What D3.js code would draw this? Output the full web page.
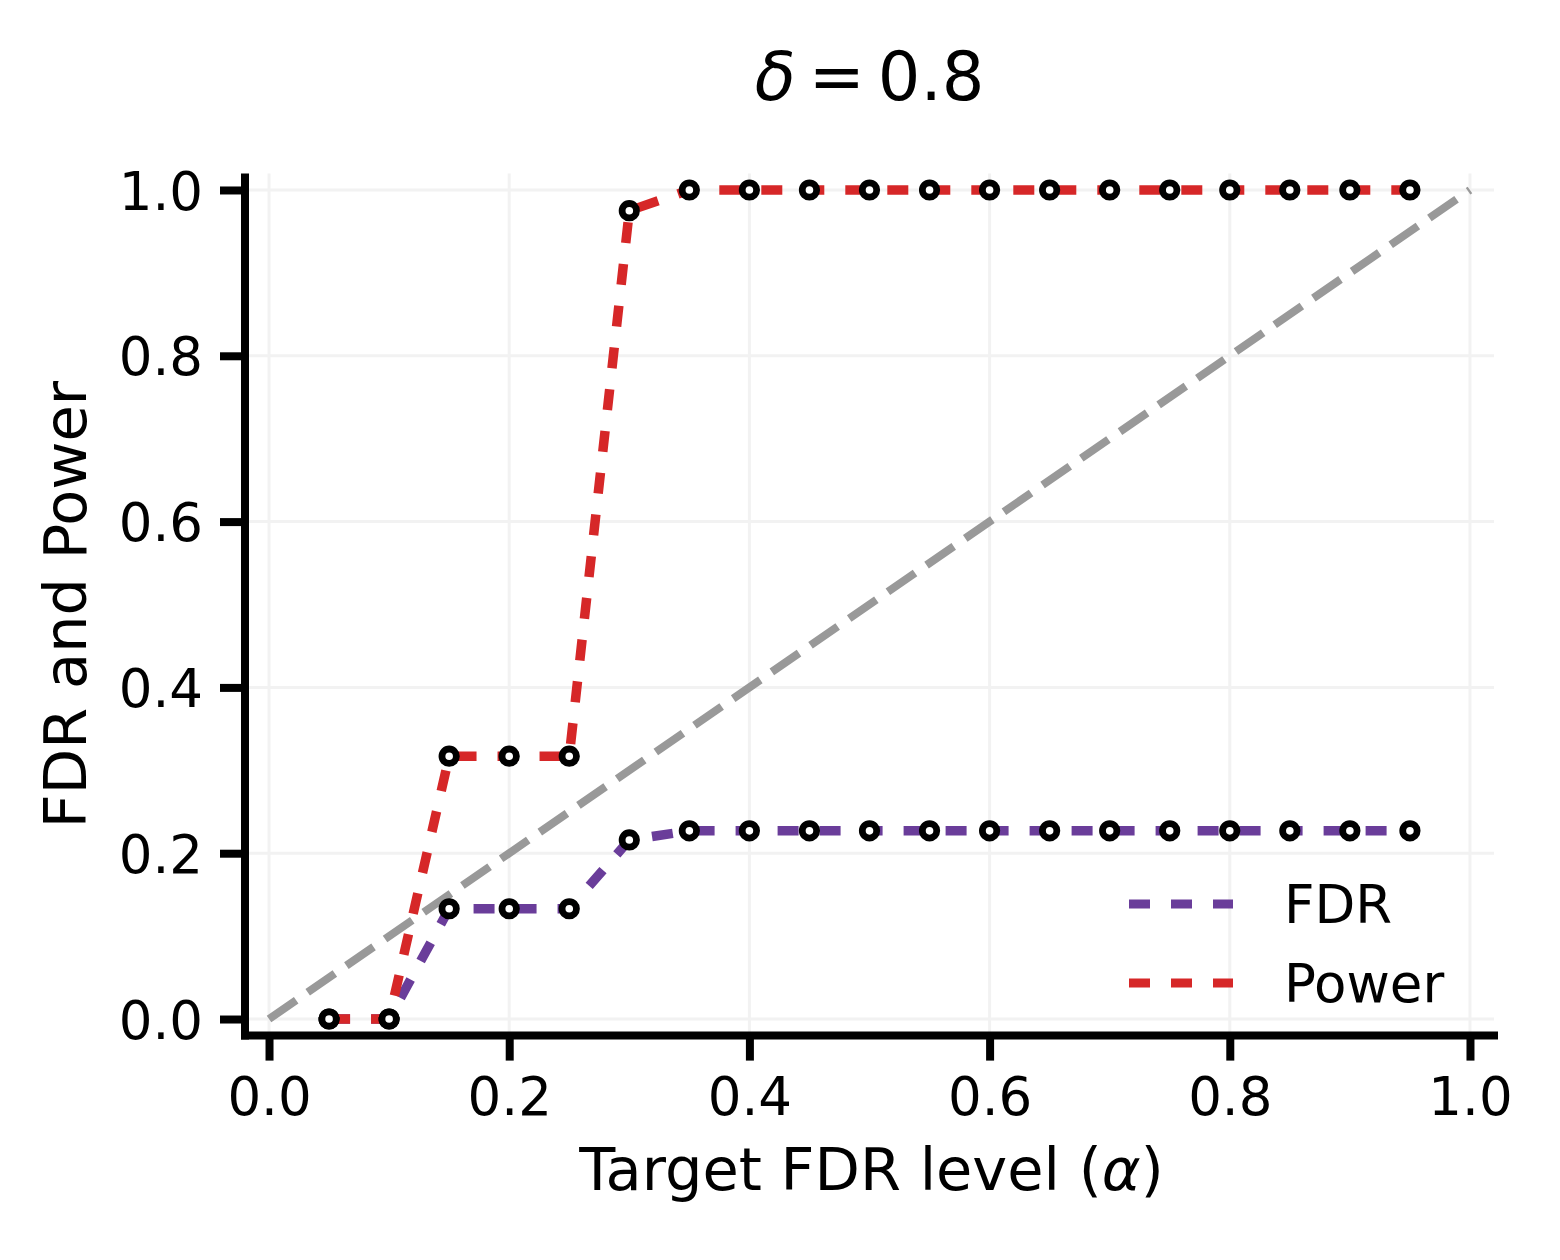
<html lang="en">
<head>
  <meta charset="UTF-8">
  <title>FDR and Power</title>
  <style>
    body { margin: 0; background: #fff; }
    text { font-family: "DejaVu Sans", sans-serif; fill: #000; }
  </style>
</head>
<body>
  <div id="my_dataviz"></div>
  <script src="https://d3js.org/d3.v7.min.js"></script>
  <script>

    // data
    const alphas = [0.05, 0.10, 0.15, 0.20, 0.25, 0.30, 0.35, 0.40, 0.45, 0.50,
                    0.55, 0.60, 0.65, 0.70, 0.75, 0.80, 0.85, 0.90, 0.95];
    const fdr = [0, 0, 0.133, 0.133, 0.133, 0.216, 0.227, 0.227, 0.227, 0.227,
                 0.227, 0.227, 0.227, 0.227, 0.227, 0.227, 0.227, 0.227, 0.227];
    const power = [0, 0, 0.317, 0.317, 0.317, 0.975, 1, 1, 1, 1,
                   1, 1, 1, 1, 1, 1, 1, 1, 1];
    const tickValues = [0, 0.2, 0.4, 0.6, 0.8, 1.0];
    const seriesNames = ["FDR", "Power"];
    const seriesColors = ["#6a3d9a", "#d62728"];

    const W = 1560, H = 1260;
    const svg = d3.select("#my_dataviz")
      .append("svg")
      .attr("width", W)
      .attr("height", H);

    const x = d3.scaleLinear().domain([-0.02, 1.02]).range([245, 1494]);
    const y = d3.scaleLinear().domain([-0.02, 1.02]).range([1035.6, 173.4]);

    // grid
    const grid = svg.append("g");
    grid.selectAll(".gx").data(tickValues).join("line")
      .attr("x1", d => x(d)).attr("x2", d => x(d))
      .attr("y1", y(1.02)).attr("y2", y(-0.02))
      .attr("stroke", "#f2f2f2").attr("stroke-width", 3);
    grid.selectAll(".gy").data(tickValues).join("line")
      .attr("y1", d => y(d)).attr("y2", d => y(d))
      .attr("x1", x(-0.02)).attr("x2", x(1.02))
      .attr("stroke", "#f2f2f2").attr("stroke-width", 3);

    // diagonal reference
    svg.append("path")
      .datum([0, 1])
      .attr("d", d3.line().x(d => x(d)).y(d => y(d)))
      .attr("stroke", "#999999")
      .attr("stroke-width", 8)
      .attr("stroke-dasharray", "33,14")
      .attr("fill", "none");

    // series lines
    const series = [fdr, power];
    const line = d3.line().x((d, i) => x(alphas[i])).y(d => y(d));
    series.forEach((s, k) => {
      svg.append("path")
        .datum(s)
        .attr("d", line)
        .attr("stroke", seriesColors[k])
        .attr("stroke-width", 9.5)
        .attr("stroke-dasharray", "21,21")
        .attr("fill", "none");
    });

    // markers
    series.forEach(s => {
      svg.append("g").selectAll("circle")
        .data(s)
        .join("circle")
        .attr("cx", (d, i) => x(alphas[i]))
        .attr("cy", d => y(d))
        .attr("r", 7.2)
        .attr("fill", "#fff")
        .attr("stroke", "#000")
        .attr("stroke-width", 6.8);
    });

    // axes
    const xAxis = svg.append("g")
      .attr("transform", `translate(0, ${y(-0.02)})`)
      .call(d3.axisBottom(x).tickValues(tickValues).tickFormat(d3.format(".1f"))
        .tickSize(25).tickPadding(17));
    const yAxis = svg.append("g")
      .attr("transform", `translate(${x(-0.02)}, 0)`)
      .call(d3.axisLeft(y).tickValues(tickValues).tickFormat(d3.format(".1f"))
        .tickSize(25).tickPadding(17));

    [xAxis, yAxis].forEach(ax => {
      ax.select(".domain").remove();
      ax.selectAll(".tick line").attr("stroke", "#000").attr("stroke-width", 8);
      ax.selectAll(".tick text")
        .attr("font-family", "DejaVu Sans")
        .attr("font-size", 53)
        .attr("fill", "#000");
    });
    xAxis.selectAll(".tick text").attr("dy", "0.71em");
    yAxis.selectAll(".tick text").attr("dy", "0.36em");

    // spines
    svg.append("line")
      .attr("x1", x(-0.02)).attr("x2", x(-0.02))
      .attr("y1", y(1.02)).attr("y2", y(-0.02) + 4)
      .attr("stroke", "#000").attr("stroke-width", 8);
    svg.append("line")
      .attr("x1", x(-0.02) - 4).attr("x2", x(1.02) + 4)
      .attr("y1", y(-0.02)).attr("y2", y(-0.02))
      .attr("stroke", "#000").attr("stroke-width", 8);

    // labels
    const xl = svg.append("text")
      .attr("x", (x(-0.02) + x(1.02)) / 2 + 2)
      .attr("y", 1190)
      .attr("text-anchor", "middle")
      .attr("font-size", 59);
    xl.append("tspan").text("Target FDR level (");
    xl.append("tspan").attr("font-style", "italic").text("α");
    xl.append("tspan").text(")");

    svg.append("text")
      .attr("transform", `translate(86, ${(y(-0.02) + y(1.02)) / 2}) rotate(-90)`)
      .attr("text-anchor", "middle")
      .attr("font-size", 59)
      .text("FDR and Power");

    const title = svg.append("text")
      .attr("x", (x(-0.02) + x(1.02)) / 2)
      .attr("y", 100)
      .attr("text-anchor", "middle")
      .attr("font-size", 67);
    title.append("tspan").attr("font-style", "italic").text("δ");
    title.append("tspan").attr("dx", 13).text("=");
    title.append("tspan").attr("dx", 13).text("0.8");

    // legend
    const legend = svg.append("g");
    seriesNames.forEach((name, k) => {
      const ly = 904 + k * 79;
      legend.append("line")
        .attr("x1", 1129).attr("x2", 1233)
        .attr("y1", ly).attr("y2", ly)
        .attr("stroke", seriesColors[k])
        .attr("stroke-width", 9)
        .attr("stroke-dasharray", "21,21");
      legend.append("text")
        .attr("x", 1284).attr("y", ly + 19)
        .attr("font-size", 53)
        .text(name);
    });
  </script>
</body>
</html>
